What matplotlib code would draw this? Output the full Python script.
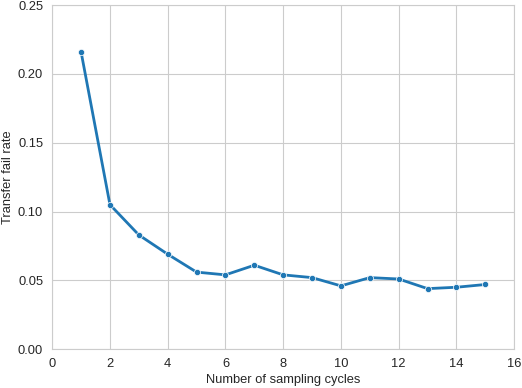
import numpy as np
import matplotlib.pyplot as plt
import seaborn as sns

cycles = list(range(1, 16))
fail_rate = [0.216, 0.105, 0.083, 0.069, 0.056, 0.054, 0.061, 0.054,
             0.052, 0.046, 0.052, 0.051, 0.044, 0.045, 0.047]

sns.set_style("whitegrid")
plt.rcParams['font.family'] = ['Liberation Sans', 'DejaVu Sans']

fig, ax = plt.subplots(figsize=(5.22, 3.88), dpi=100)
ax.plot(cycles, fail_rate, color='#1f77b4', lw=2, marker='o', ms=4.5,
        mec='white', mew=0.5)
ax.set_xlim(0, 16)
ax.set_ylim(0, 0.25)
ax.set_xticks(np.arange(0, 17, 2))
ax.set_yticks(np.arange(0, 0.26, 0.05))
ax.set_xlabel('Number of sampling cycles', fontsize=9.3, labelpad=3)
ax.set_ylabel('Transfer fail rate', fontsize=9.3, labelpad=3)
ax.tick_params(labelsize=9.3, pad=3)
plt.subplots_adjust(left=0.1, right=0.985, top=0.987, bottom=0.1)
plt.savefig('out.png', dpi=100)
